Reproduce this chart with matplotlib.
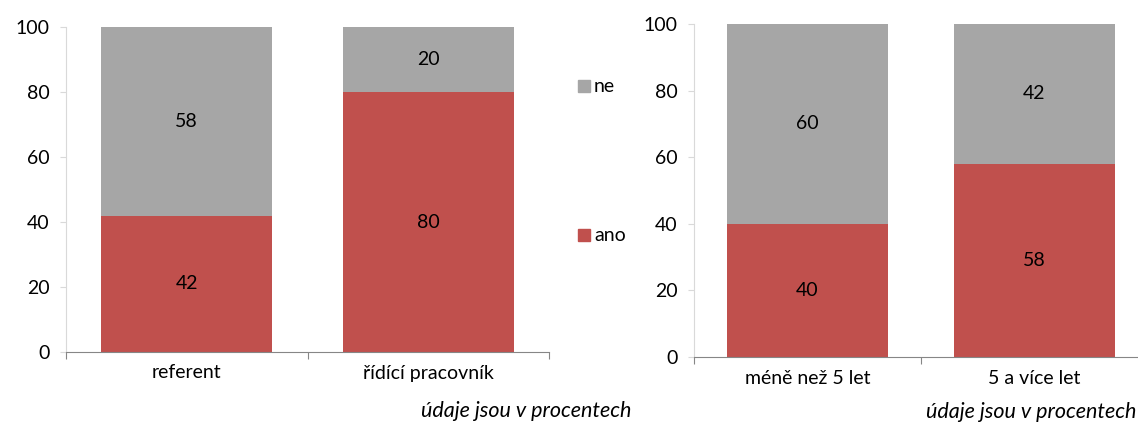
import matplotlib
matplotlib.use("Agg")
import matplotlib.pyplot as plt
from matplotlib.patches import Rectangle

# ── Data (procenta) ──
cats_left = ["referent", "řídící pracovník"]
ano_left = [42, 80]
ne_left = [58, 20]

cats_right = ["méně než 5 let", "5 a více let"]
ano_right = [40, 58]
ne_right = [60, 42]

legend_labels = ["ne", "ano"]
note = "údaje jsou v procentech"

RED = "#C0504D"
GRAY = "#A6A6A6"
FS = 14

plt.rcParams["font.family"] = ["Lato", "DejaVu Sans"]

W, H = 1138, 425
fig = plt.figure(figsize=(W / 100, H / 100), dpi=100)


def fx(px):
    return px / W


def fy(py):
    return 1 - py / H


def stacked(ax, cats, ano, ne):
    x = list(range(len(cats)))
    ax.bar(x, ano, width=0.71, color=RED, zorder=2)
    ax.bar(x, ne, width=0.71, bottom=ano, color=GRAY, zorder=2)
    for i in x:
        ax.text(i, ano[i] / 2, str(ano[i]), ha="center", va="center", fontsize=FS)
        ax.text(i, ano[i] + ne[i] / 2, str(ne[i]), ha="center", va="center", fontsize=FS)
    ax.set_xlim(-0.5, len(cats) - 0.5)
    ax.set_ylim(0, 100)
    ax.set_yticks(range(0, 101, 20))
    # major ticks mark category boundaries, minor ones carry the labels
    ax.set_xticks([-0.5, 0.5, 1.5], minor=False)
    ax.set_xticklabels([])
    ax.set_xticks(x, minor=True)
    ax.set_xticklabels(cats, minor=True, fontsize=FS)
    ax.tick_params(axis="x", which="minor", length=0, pad=9)
    ax.tick_params(axis="x", which="major", length=5, color="#868686", direction="out")
    ax.tick_params(axis="y", length=4, color="#D9D9D9", direction="out", labelsize=FS, pad=8)
    for s in ("top", "right"):
        ax.spines[s].set_visible(False)
    ax.spines["left"].set_color("#D9D9D9")
    ax.spines["bottom"].set_color("#868686")


# left panel: pozice
ax1 = fig.add_axes([fx(66), fy(352), fx(549 - 66), (352 - 27) / H])
stacked(ax1, cats_left, ano_left, ne_left)

# right panel: délka praxe
ax2 = fig.add_axes([fx(694), fy(357), fx(1148 - 694), (357 - 24) / H])
stacked(ax2, cats_right, ano_right, ne_right)

# legend between panels
for lab, col, ypx in zip(legend_labels, [GRAY, RED], [86, 235]):
    fig.patches.append(Rectangle((fx(578), fy(ypx + 6)), fx(12), 12 / H,
                                 transform=fig.transFigure, color=col))
    fig.text(fx(594), fy(ypx), lab, ha="left", va="center", fontsize=FS)

fig.text(fx(631), fy(411), note, ha="right", va="center", fontsize=15.5, style="italic")
fig.text(fx(1136), fy(412), note, ha="right", va="center", fontsize=15.5, style="italic")

fig.savefig("out.png", dpi=100)
